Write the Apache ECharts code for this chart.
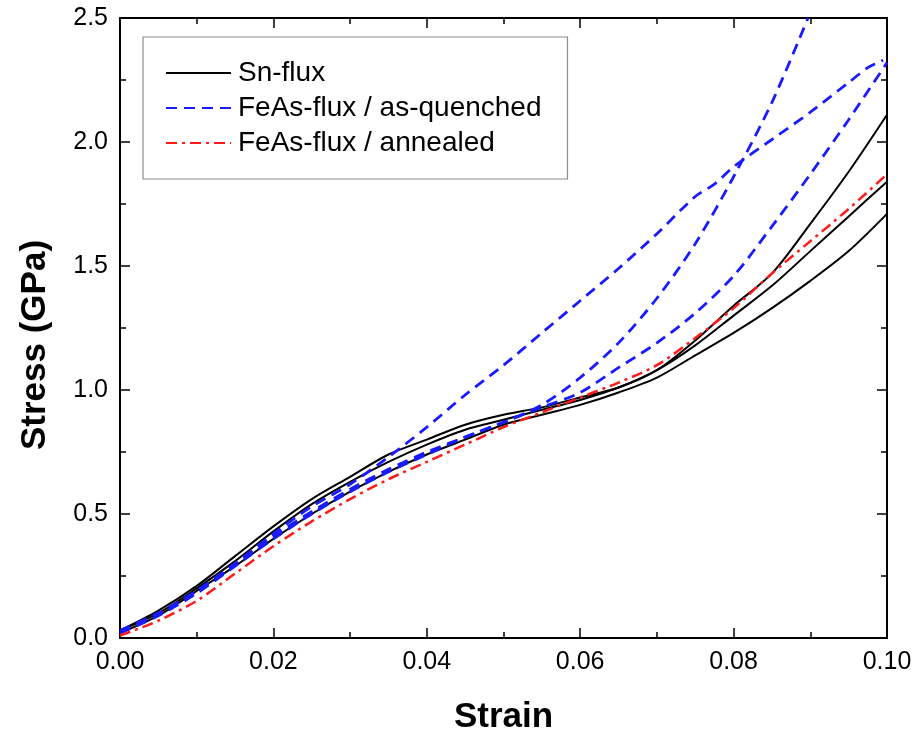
<!DOCTYPE html>
<html>
<head>
<meta charset="utf-8">
<script src="https://cdn.jsdelivr.net/npm/echarts@6/dist/echarts.min.js"></script>
<style>
  html, body { margin: 0; padding: 0; background: #fff; }
  #chart { width: 918px; height: 740px; }
</style>
</head>
<body>
<div id="chart"></div>
<script>
// Common strain grid (0 .. 0.10 in steps of 0.005)
var strain = [0, 0.005, 0.01, 0.015, 0.02, 0.025, 0.03, 0.035, 0.04, 0.045, 0.05,
              0.055, 0.06, 0.065, 0.07, 0.075, 0.08, 0.085, 0.09, 0.095, 0.1];

// Sn-flux samples (stress in GPa on the common grid)
var snFlux1 = [0.03, 0.11, 0.21, 0.33, 0.45, 0.56, 0.65, 0.74, 0.80, 0.86, 0.90,
               0.93, 0.97, 1.01, 1.08, 1.20, 1.34, 1.47, 1.67, 1.88, 2.11];
var snFlux2 = [0.03, 0.10, 0.20, 0.31, 0.43, 0.54, 0.63, 0.71, 0.78, 0.84, 0.88,
               0.92, 0.96, 1.01, 1.08, 1.18, 1.30, 1.42, 1.56, 1.70, 1.84];
var snFlux3 = [0.02, 0.09, 0.19, 0.29, 0.40, 0.50, 0.59, 0.67, 0.74, 0.80, 0.86,
               0.90, 0.94, 0.99, 1.05, 1.14, 1.23, 1.33, 1.44, 1.56, 1.71];

// FeAs-flux / as-quenched samples
var quenchedStrainA = [0, 0.005, 0.01, 0.015, 0.02, 0.025, 0.03, 0.035, 0.04, 0.045, 0.05,
                       0.055, 0.06, 0.065, 0.07, 0.075, 0.0775, 0.08, 0.085, 0.09, 0.095,
                       0.0975, 0.0988, 0.0995];
var quenchedA = [0.03, 0.10, 0.19, 0.30, 0.42, 0.53, 0.62, 0.73, 0.85, 0.98, 1.10,
                 1.23, 1.36, 1.49, 1.63, 1.78, 1.83, 1.90, 2.01, 2.12, 2.24,
                 2.30, 2.32, 2.33];
var quenchedStrainB = [0, 0.005, 0.01, 0.015, 0.02, 0.025, 0.03, 0.035, 0.04, 0.045, 0.05,
                       0.055, 0.06, 0.065, 0.07, 0.075, 0.08, 0.085, 0.0897];
var quenchedB = [0.03, 0.10, 0.19, 0.30, 0.41, 0.51, 0.60, 0.68, 0.75, 0.81, 0.87,
                 0.94, 1.05, 1.19, 1.37, 1.59, 1.86, 2.16, 2.50];
var quenchedC = [0.02, 0.09, 0.18, 0.29, 0.40, 0.50, 0.59, 0.67, 0.74, 0.81, 0.87,
                 0.93, 0.99, 1.09, 1.19, 1.31, 1.46, 1.66, 1.87, 2.09, 2.32];

// FeAs-flux / annealed samples
var annealed = [0.01, 0.07, 0.15, 0.26, 0.37, 0.47, 0.56, 0.64, 0.71, 0.78, 0.85,
                0.91, 0.97, 1.03, 1.10, 1.21, 1.33, 1.47, 1.60, 1.73, 1.87];

// Axis ticks
var xTicks = { min: 0, max: 0.1, step: 0.02 };
var yTicks = { min: 0, max: 2.5, step: 0.5 };

var NAME_SN = 'Sn-flux';
var NAME_AQ = 'FeAs-flux / as-quenched';
var NAME_AN = 'FeAs-flux / annealed';

function pairs(xs, ys) {
  return xs.map(function (x, i) { return [x, ys[i]]; });
}

var FONT = 'Liberation Sans, Arial, Helvetica, sans-serif';

function curve(name, xs, ys, color, width, type) {
  return {
    name: name,
    type: 'line',
    data: pairs(xs, ys),
    symbol: 'none',
    showSymbol: false,
    smooth: 0.3,
    clip: true,
    animation: false,
    lineStyle: { color: color, width: width, type: type },
    itemStyle: { color: color },
    z: name === NAME_AN ? 4 : (name === NAME_AQ ? 3 : 2)
  };
}

var blueDash = [11, 7];
var redDashDot = [11, 5, 3, 5];

var series = [
  curve(NAME_SN, strain, snFlux1, '#000000', 2, 'solid'),
  curve(NAME_SN, strain, snFlux2, '#000000', 2, 'solid'),
  curve(NAME_SN, strain, snFlux3, '#000000', 2, 'solid'),
  curve(NAME_AQ, quenchedStrainA, quenchedA, '#1a1aff', 2.8, blueDash),
  curve(NAME_AQ, quenchedStrainB, quenchedB, '#1a1aff', 2.8, blueDash),
  curve(NAME_AQ, strain, quenchedC, '#1a1aff', 2.8, blueDash),
  curve(NAME_AN, strain, annealed, '#ff1a1a', 2.5, redDashDot)
];

function frameAxis(extra) {
  var base = {
    type: 'value',
    axisLine: { show: true, onZero: false, lineStyle: { color: '#000', width: 2 } },
    axisTick: { show: true, inside: true, length: 10, lineStyle: { color: '#000', width: 1.5 } },
    minorTick: { show: true, splitNumber: 2, length: 6, lineStyle: { color: '#000', width: 1.5 } },
    splitLine: { show: false },
    minorSplitLine: { show: false }
  };
  return Object.assign(base, extra);
}

var chart = echarts.init(document.getElementById('chart'), null, { renderer: 'canvas' });

chart.setOption({
  backgroundColor: '#ffffff',
  animation: false,
  grid: { left: 120, right: 31, top: 18, bottom: 97.5, containLabel: false },
  legend: {
    orient: 'vertical',
    left: 143,
    top: 37,
    padding: [22, 26, 22, 22],
    borderColor: '#8c8c8c',
    borderWidth: 1.2,
    itemWidth: 65,
    itemHeight: 14,
    itemGap: 7,
    selectedMode: false,
    itemStyle: { opacity: 0 },
    data: [NAME_SN, NAME_AQ, NAME_AN],
    textStyle: { fontFamily: FONT, fontSize: 28, color: '#000', padding: [0, 0, 0, 2] }
  },
  xAxis: [
    frameAxis({
      position: 'bottom',
      min: xTicks.min, max: xTicks.max, interval: xTicks.step,
      name: 'Strain',
      nameLocation: 'middle',
      nameGap: 62,
      nameTextStyle: { fontFamily: FONT, fontSize: 35, fontWeight: 'bold', color: '#000' },
      axisLabel: {
        margin: 12, fontFamily: FONT, fontSize: 25, color: '#000',
        formatter: function (v) { return v.toFixed(2); }
      }
    }),
    frameAxis({
      position: 'top',
      min: xTicks.min, max: xTicks.max, interval: xTicks.step,
      axisLabel: { show: false }
    })
  ],
  yAxis: [
    frameAxis({
      position: 'left',
      min: yTicks.min, max: yTicks.max, interval: yTicks.step,
      name: 'Stress (GPa)',
      nameLocation: 'middle',
      nameGap: 67,
      nameTextStyle: { fontFamily: FONT, fontSize: 35, fontWeight: 'bold', color: '#000', padding: [0, 34, 0, 0] },
      axisLabel: {
        margin: 12, fontFamily: FONT, fontSize: 25, color: '#000',
        formatter: function (v) { return v.toFixed(1); }
      }
    }),
    frameAxis({
      position: 'right',
      min: yTicks.min, max: yTicks.max, interval: yTicks.step,
      axisLabel: { show: false }
    })
  ],
  series: series
});
</script>
</body>
</html>
